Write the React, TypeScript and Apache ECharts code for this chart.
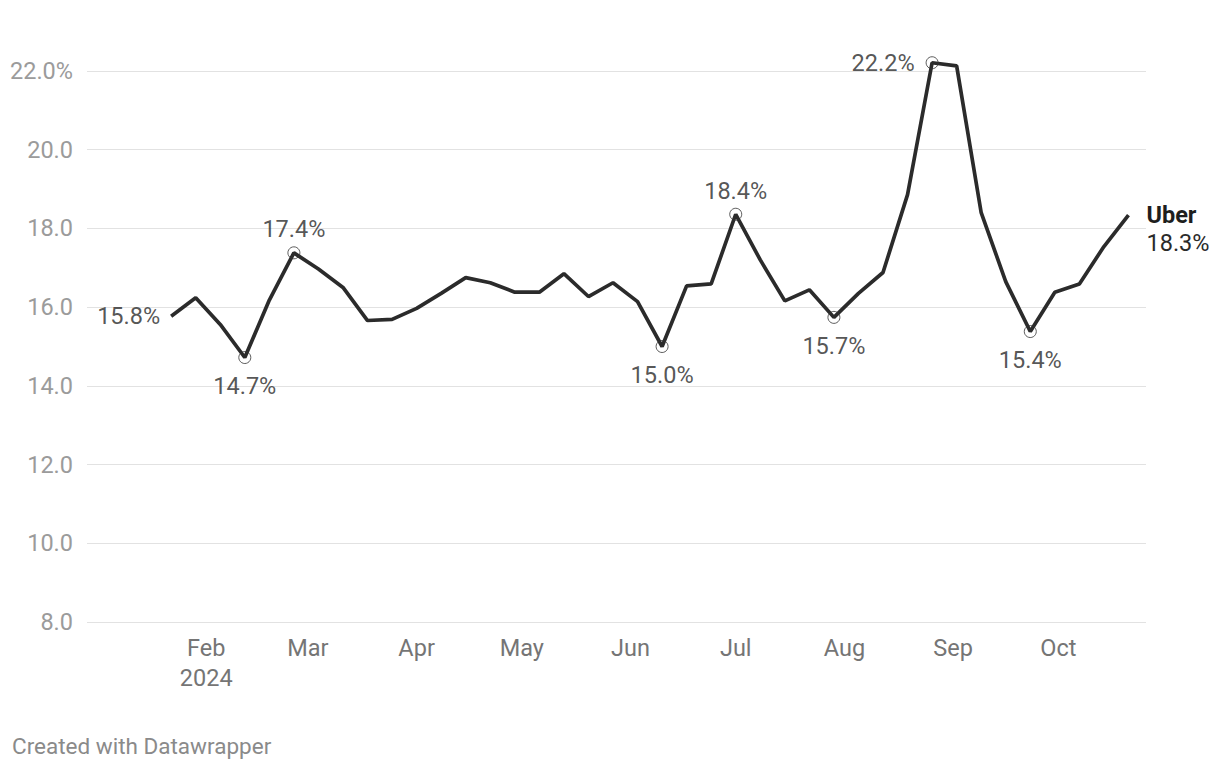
import React, { useEffect, useRef } from "react";
import * as echarts from "echarts";

// Weekly dates (Monday) and Uber share values (%)
const dates: string[] = [
  "2024-01-22", "2024-01-29", "2024-02-05", "2024-02-12", "2024-02-19", "2024-02-26",
  "2024-03-04", "2024-03-11", "2024-03-18", "2024-03-25", "2024-04-01", "2024-04-08",
  "2024-04-15", "2024-04-22", "2024-04-29", "2024-05-06", "2024-05-13", "2024-05-20",
  "2024-05-27", "2024-06-03", "2024-06-10", "2024-06-17", "2024-06-24", "2024-07-01",
  "2024-07-08", "2024-07-15", "2024-07-22", "2024-07-29", "2024-08-05", "2024-08-12",
  "2024-08-19", "2024-08-26", "2024-09-02", "2024-09-09", "2024-09-16", "2024-09-23",
  "2024-09-30", "2024-10-07", "2024-10-14", "2024-10-21",
];
const uberValues: number[] = [
  15.77, 16.24, 15.56, 14.72, 16.18, 17.38,
  16.97, 16.5, 15.66, 15.69, 15.97, 16.35,
  16.75, 16.62, 16.38, 16.38, 16.85, 16.27,
  16.62, 16.14, 15.0, 16.54, 16.59, 18.36,
  17.2, 16.16, 16.44, 15.74, 16.35, 16.88,
  18.86, 22.21, 22.13, 18.4, 16.65, 15.38,
  16.38, 16.59, 17.54, 18.34,
];
const seriesName = "Uber";

// Annotated points (indices into the data) and where their labels sit
const annotatedIndices: number[] = [0, 3, 5, 20, 23, 27, 31, 35];
const annotationPlacement: string[] = ["left", "bottom", "top", "bottom", "top", "bottom", "left", "bottom"];

// X axis tick labels (month starts)
const monthTickDates: string[] = [
  "2024-02-01", "2024-03-01", "2024-04-01", "2024-05-01", "2024-06-01",
  "2024-07-01", "2024-08-01", "2024-09-01", "2024-10-01",
];
const monthTickLabels: string[] = ["Feb\n2024", "Mar", "Apr", "May", "Jun", "Jul", "Aug", "Sep", "Oct"];

// Axis domain
const xDomain: string[] = ["2023-12-29", "2024-10-26"];
const yMin = 8;
const yMax = 22;
const yStep = 2;

const footerText = "Created with Datawrapper";

function toTime(s: string): number {
  const [y, m, d] = s.split("-").map(Number);
  return Date.UTC(y, m - 1, d);
}

const FONT = "Roboto";
const FS = 23.5;

export default function App() {
  const ref = useRef<HTMLDivElement>(null);

  useEffect(() => {
    document.body.style.margin = "0";
    if (!ref.current) return;
    const chart = echarts.init(ref.current, null, { renderer: "svg" });

    const lineData = dates.map((d, i) => [toTime(d), uberValues[i]]);
    const tickTimes = monthTickDates.map(toTime);

    const annotData = annotatedIndices.map((idx, k) => {
      const pos = annotationPlacement[k];
      const noMarker = idx === 0;
      return {
        value: [toTime(dates[idx]), uberValues[idx]],
        symbolSize: noMarker ? 0 : 12,
        label: {
          position: pos,
          distance: pos === "left" ? 11 : pos === "top" ? 5 : 10,
        },
      };
    });

    const lastVal = uberValues[uberValues.length - 1];

    chart.setOption({
      animation: false,
      backgroundColor: "#ffffff",
      textStyle: { fontFamily: FONT },
      grid: { left: 87, right: 74, top: 71, bottom: 146, containLabel: false },
      xAxis: {
        type: "value",
        min: toTime(xDomain[0]),
        max: toTime(xDomain[1]),
        axisLine: { show: false },
        axisTick: { show: false },
        splitLine: { show: false },
        axisLabel: {
          customValues: tickTimes,
          formatter: (v: number) => {
            const i = tickTimes.findIndex((t) => Math.abs(t - v) < 3600 * 1000 * 12);
            return i >= 0 ? monthTickLabels[i] : "";
          },
          color: "#757575",
          fontSize: FS,
          lineHeight: 30,
          margin: 11,
          fontFamily: FONT,
          hideOverlap: false,
          showMinLabel: true,
          showMaxLabel: true,
        },
      },
      yAxis: {
        type: "value",
        min: yMin,
        max: yMax,
        interval: yStep,
        axisLine: { show: false },
        axisTick: { show: false },
        splitLine: { show: true, lineStyle: { color: "#e2e2e2", width: 1 } },
        axisLabel: {
          formatter: (v: number) => (v === yMax ? v.toFixed(1) + "%" : v.toFixed(1)),
          color: "#9b9b9b",
          fontSize: FS,
          margin: 14,
          fontFamily: FONT,
        },
      },
      series: [
        {
          name: seriesName,
          type: "line",
          data: lineData,
          symbol: "none",
          clip: false,
          lineStyle: { color: "#2b2b2b", width: 3.7 },
          z: 3,
          endLabel: {
            show: true,
            distance: 18,
            offset: [0, 14],
            formatter: () => `{n|${seriesName}}\n{v|${lastVal.toFixed(1)}%}`,
            rich: {
              n: { fontSize: FS, fontWeight: "bold", color: "#1e1e1e", lineHeight: 28, fontFamily: FONT },
              v: { fontSize: FS, color: "#2a2a2a", lineHeight: 28, fontFamily: FONT },
            },
          },
        },
        {
          type: "scatter",
          data: annotData,
          symbol: "circle",
          clip: false,
          z: 4,
          itemStyle: { color: "rgba(255,255,255,0)", borderColor: "#333333", borderWidth: 1 },
          label: {
            show: true,
            formatter: (p: any) => p.value[1].toFixed(1) + "%",
            color: "#2a2a2a",
            fontSize: FS,
            fontFamily: FONT,
          },
          emphasis: { disabled: true },
          silent: true,
        },
      ],
      graphic: [
        {
          type: "text",
          left: 12,
          top: 734,
          style: { text: footerText, fontSize: 22.5, fill: "#8a8a8a", fontFamily: FONT },
        },
      ],
    });

    return () => chart.dispose();
  }, []);

  return <div ref={ref} style={{ width: 1220, height: 768 }} />;
}
